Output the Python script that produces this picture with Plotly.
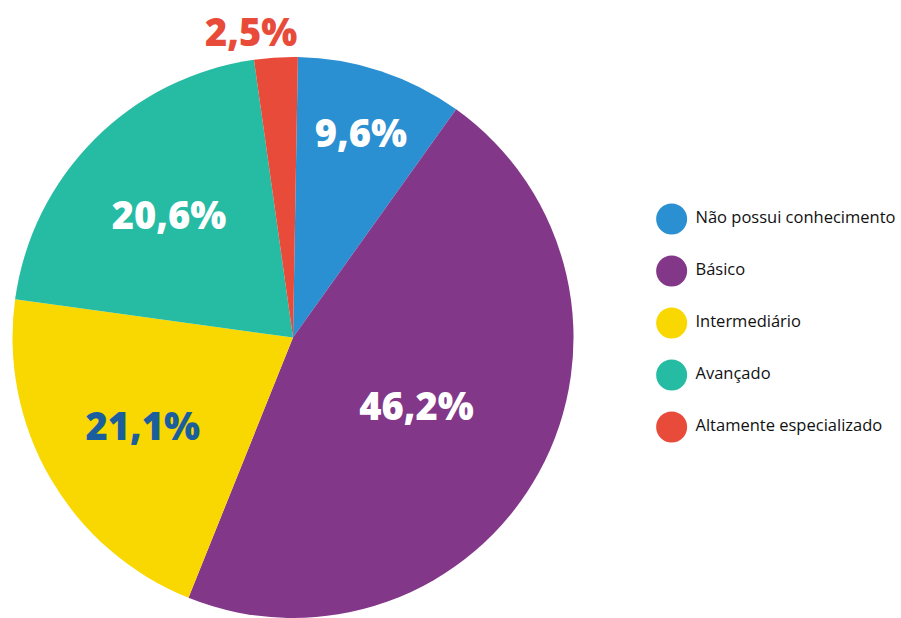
import plotly.graph_objects as go

categories = ["Não possui conhecimento", "Básico", "Intermediário", "Avançado", "Altamente especializado"]
values = [9.6, 46.2, 21.1, 20.6, 2.5]
colors = ["#2A90D1", "#823789", "#F8D800", "#26BBA3", "#E84B3A"]
label_colors = ["#FFFFFF", "#FFFFFF", "#1B5E9E", "#FFFFFF", "#E84B3A"]
positions = ["inside", "inside", "inside", "inside", "none"]

fmt = lambda v: f"{v:.1f}%".replace(".", ",")

fig = go.Figure()

fig.add_trace(go.Pie(
    labels=categories,
    values=values,
    sort=False,
    direction="clockwise",
    rotation=1,
    marker=dict(colors=colors, line=dict(width=0)),
    texttemplate="%{value:.1f}%",
    textposition=positions,
    insidetextorientation="horizontal",
    textfont=dict(family="Open Sans", size=38, color=label_colors, weight=800),
    domain=dict(x=[0, 586 / 901], y=[0, 1]),
    showlegend=False,
    hoverinfo="label+percent",
))

# legend markers
fig.add_trace(go.Scatter(
    x=[0] * len(categories),
    y=list(range(len(categories))),
    mode="markers",
    marker=dict(size=31, color=colors, line=dict(width=0)),
    xaxis="x2",
    yaxis="y2",
    showlegend=False,
    hoverinfo="skip",
))

# legend labels
fig.add_trace(go.Scatter(
    x=[0.52] * len(categories),
    y=list(range(len(categories))),
    mode="text",
    text=categories,
    textposition="middle right",
    textfont=dict(family="Open Sans", size=16.5, color="#111111"),
    xaxis="x2",
    yaxis="y2",
    showlegend=False,
    hoverinfo="text",
))

fig.add_annotation(
    text=fmt(values[4]),
    xref="paper", yref="paper",
    x=251 / 901, y=(618 - 31) / 561,
    xanchor="center", yanchor="middle",
    showarrow=False,
    font=dict(family="Open Sans", size=38, color=label_colors[4], weight=800),
)

fig.update_layout(
    width=901,
    height=618,
    margin=dict(l=0, r=0, t=57, b=0),
    paper_bgcolor="white",
    plot_bgcolor="rgba(0,0,0,0)",
    separators=",.",
    xaxis2=dict(domain=[0.72, 1.0], range=[-0.5, 5.0], visible=False, fixedrange=True),
    yaxis2=dict(domain=[0, 1], range=[7.671, -3.116], visible=False, fixedrange=True, anchor="x2"),
)

fig.write_html("out.html")
